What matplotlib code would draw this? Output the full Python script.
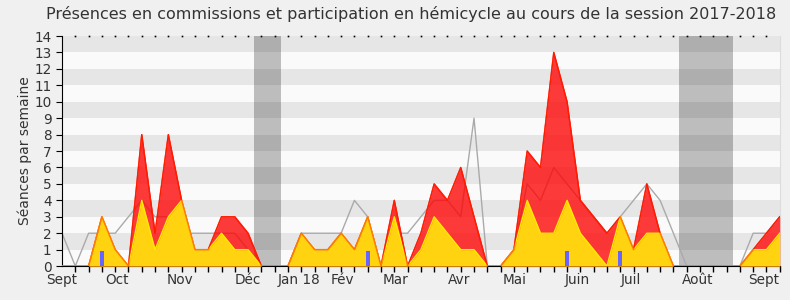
import matplotlib.pyplot as plt
import numpy as np

# Semaines de la session (index 0 = début septembre 2017)
semaines = np.arange(55)

# Séances par semaine
commissions = [0, 0, 0, 3, 1, 0, 8, 2, 8, 4, 1, 1, 3, 3, 2, 0, 0, 0, 2, 1,
               1, 2, 1, 3, 0, 4, 0, 2, 5, 4, 6, 3, 0, 0, 1, 7, 6, 13, 10, 4,
               3, 2, 3, 1, 5, 2, 0, 0, 0, 0, 0, 0, 1, 2, 3]
hemicycle = [0, 0, 0, 3, 1, 0, 4, 1, 3, 4, 1, 1, 2, 1, 1, 0, 0, 0, 2, 1,
             1, 2, 1, 3, 0, 3, 0, 1, 3, 2, 1, 1, 0, 0, 1, 4, 2, 2, 4, 2,
             1, 0, 3, 1, 2, 2, 0, 0, 0, 0, 0, 0, 1, 1, 2]
mediane = [2, 0, 2, 2, 2, 3, 4, 3, 3, 2, 2, 2, 2, 2, 1, 0, 0, 0, 2, 2,
           2, 2, 4, 3, 0, 2, 2, 3, 4, 4, 3, 9, 0, 0, 1, 5, 4, 6, 5, 4,
           3, 2, 3, 4, 5, 4, 2, 0, 0, 0, 0, 0, 2, 2, 3]
questions_sem = [3, 23, 38, 42]
questions_val = [0.9, 0.9, 0.9, 0.9]

# Vacances parlementaires (en semaines)
vacances = [(14.45, 16.45), (46.45, 50.5)]

# Mois
mois_pos = [0, 4.1, 8.85, 13.95, 17.85, 21.1, 25.1, 29.85, 34.05, 38.8, 42.8, 47.85, 52.8]
mois_lab = ['Sept', 'Oct', 'Nov', 'Déc', 'Jan 18', 'Fév', 'Mar', 'Avr', 'Mai',
            'Juin', 'Juil', 'Août', 'Sept']

fig = plt.figure(figsize=(7.9, 3.0), dpi=100, facecolor='#f0f0f0')
ax = fig.add_axes([0.0785, 0.113, 0.9085, 0.767])
ax.set_facecolor('#fafafa')

# bandes horizontales
for k in range(1, 14, 2):
    ax.axhspan(k, k + 1, color='#e6e6e6', lw=0, zorder=0)

for a, b in vacances:
    ax.axvspan(a, b, color='black', alpha=0.245, lw=0, zorder=1)

ax.plot(semaines, mediane, color='#aaaaaa', lw=1, zorder=2)
ax.fill_between(semaines, commissions, color='#ff0000', alpha=0.77, lw=0, zorder=3)
ax.plot(semaines, commissions, color='#ff0000', lw=1, zorder=3)
ax.fill_between(semaines, hemicycle, color='#ffd30f', lw=0, zorder=4)
ax.plot(semaines, hemicycle, color='#ffea00', lw=1, zorder=4)
ax.plot(semaines, commissions, color='#ff3000', lw=1, alpha=0.6, zorder=5)
ax.bar(questions_sem, questions_val, width=0.27, color='#6666ff', zorder=6)

ax.set_xlim(0, 54)
ax.set_ylim(0, 14)
ax.set_yticks(range(0, 15))
ax.tick_params(axis='y', labelsize=9.8, length=4, colors='#333333')
ax.tick_params(axis='y', color='black')
ax.set_xticks(mois_pos)
ax.set_xticklabels(mois_lab, fontsize=9.8, color='#333333')
ax.tick_params(axis='x', which='major', length=0, pad=5)
ax.set_xticks(semaines, minor=True)
ax.tick_params(axis='x', which='minor', length=4, width=1, color='black',
               bottom=True, top=False, direction='out')

ax.spines['top'].set_visible(False)
ax.spines['right'].set_color('#dddddd')
ax.spines['left'].set_color('black')
ax.spines['bottom'].set_color('black')

# petits points en haut
ax.plot(semaines[1:-1], [14.0] * 53, ls='none', marker='s', ms=1.2, mew=0,
        color='black', clip_on=False, zorder=7)

ax.set_ylabel('Séances par semaine', fontsize=10, color='#333333', labelpad=2)
fig.text(0.521, 0.955, 'Présences en commissions et participation en hémicycle au cours de la session 2017-2018',
         ha='center', va='center', fontsize=11.5, color='#333333')

fig.savefig('out.png', dpi=100, facecolor=fig.get_facecolor())
